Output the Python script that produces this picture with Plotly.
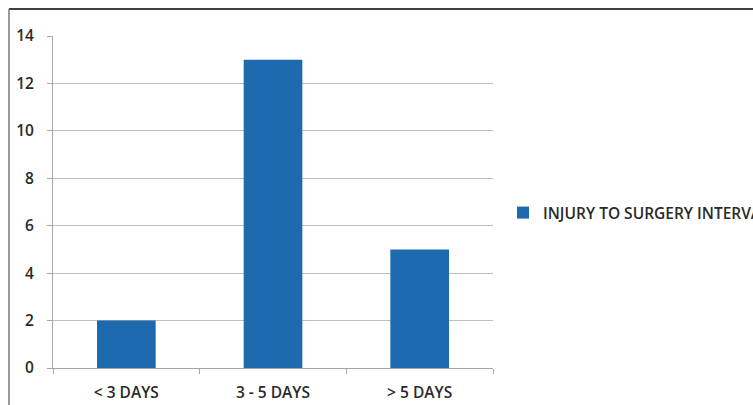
import plotly.graph_objects as go

categories = ["< 3 DAYS", "3 - 5 DAYS", "> 5 DAYS"]
values = [2, 13, 5]
series_name = "INJURY TO SURGERY INTERVAL"
y_ticks = [0, 2, 4, 6, 8, 10, 12, 14]

L, R, T, B = 53, 493, 36, 368
W, H = 753, 405
pw, ph = R - L, B - T

fig = go.Figure()
fig.add_trace(go.Bar(x=categories, y=values, name=series_name,
                     marker=dict(color="#1D6AAF", line=dict(width=0)),
                     showlegend=True))

font_txt = dict(family="Open Sans, Liberation Sans, sans-serif", size=15.5,
                color="#2a2a2a", weight=600)

fig.update_layout(
    width=W, height=H,
    margin=dict(l=L, r=W - R, t=T, b=H - B, pad=0, autoexpand=False),
    paper_bgcolor="white", plot_bgcolor="white",
    bargap=0.6,
    showlegend=True,
    legend=dict(xref="container", yref="container", x=503 / W, y=1 - 213 / H,
                xanchor="left", yanchor="middle",
                font=font_txt, bgcolor="rgba(0,0,0,0)", itemwidth=30,
                tracegroupgap=0),
    xaxis=dict(showgrid=False, showline=True, linecolor="#A6A6A6", linewidth=1,
               ticks="outside", ticklen=5, tickcolor="#A6A6A6", tickson="boundaries",
               tickfont=font_txt, fixedrange=True, ticklabelstandoff=10,
               automargin=False),
    yaxis=dict(range=[0, 14], tickvals=y_ticks, showgrid=True, gridcolor="#BFBFBF",
               gridwidth=1, showline=True, linecolor="#A6A6A6", linewidth=1,
               ticks="outside", ticklen=5, tickcolor="#A6A6A6",
               tickfont=font_txt, zeroline=False, ticklabelstandoff=10,
               automargin=False),
    shapes=[
        dict(type="line", xref="paper", yref="paper",
             x0=(9 - L) / pw, x1=(W + 5 - L) / pw, y0=(B - 9) / ph, y1=(B - 9) / ph,
             line=dict(color="black", width=1.5)),
        dict(type="line", xref="paper", yref="paper",
             x0=(9 - L) / pw, x1=(9 - L) / pw, y0=(B - 9) / ph, y1=(B - H - 5) / ph,
             line=dict(color="#777777", width=1.5)),
    ],
)

fig.write_html("out.html")
